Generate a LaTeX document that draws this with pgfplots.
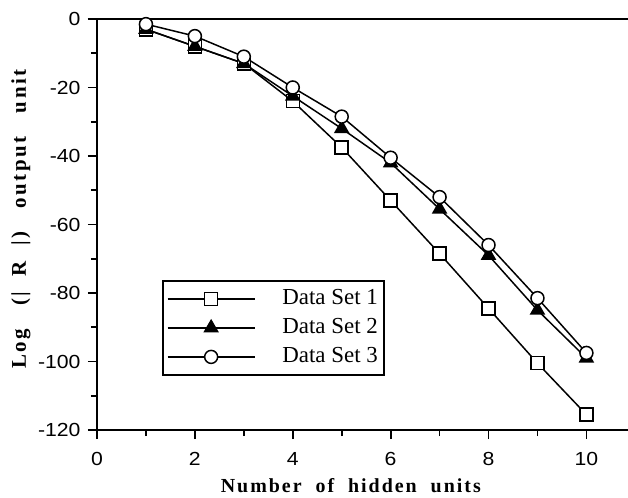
\documentclass[border=0pt]{standalone}
\usepackage{fontspec}
\setmainfont{Liberation Serif}
\setsansfont{Liberation Sans}
\newfontfamily\tickfont{Liberation Sans}[FakeStretch=1.12]
\usepackage{pgfplots}
\pgfplotsset{compat=1.18}
\begin{document}
\begin{tikzpicture}
\begin{axis}[
  at={(0,0)}, anchor=south west,
  scale only axis,
  width=531bp, height=411bp,
  xmin=0, xmax=10.85, ymin=-120, ymax=0,
  axis x line*=bottom, axis y line*=left,
  axis line style={line width=1.8bp},
  clip=false,
  xtick={0,2,4,6,8,10},
  xticklabels={0,2,4,6,8,10},
  ytick={-120,-100,-80,-60,-40,-20,0},
  yticklabels={-120,-100,-80,-60,-40,-20,0},
  minor xtick={1,3,5,7,9},
  minor ytick={-110,-90,-70,-50,-30,-10},
  tick align=outside,
  major tick length=9bp, minor tick length=6bp,
  every tick/.style={black, line width=1.8bp},
  ticklabel style={font=\tickfont\fontsize{19}{21}\selectfont},
  xticklabel style={yshift=-10bp},
  yticklabel style={xshift=-4bp},
  extra y ticks={0},
  extra y tick labels={},
  extra y tick style={grid=major, major grid style={black, line width=1.8bp}},
  xlabel={\addfontfeature{LetterSpace=10}\bfseries Number\ \ of\ \ hidden\ \ units},
  ylabel={\addfontfeature{LetterSpace=12}\bfseries Log\ \ \ (|\ \ R\ \ |)\ \ \ output\ \ \ unit},
  xlabel style={font=\fontsize{20}{22}\selectfont, at={(axis description cs:0.478,0)}, anchor=base, yshift=-62bp},
  ylabel style={font=\fontsize{21}{23}\selectfont, at={(axis description cs:0,0.513)}, anchor=center, rotate=0, yshift=76bp},
  legend style={at={(65bp,150bp)}, anchor=north west, draw=black, line width=1.8bp,
    font=\fontsize{23}{25}\selectfont, inner xsep=4bp, inner ysep=5bp,
    row sep=3bp, cells={anchor=west},
    nodes={text height=17bp, text depth=5bp, inner sep=2bp},
    /tikz/every odd column/.append style={column sep=25bp}},
  legend cell align=left,
  legend image code/.code={
    \draw[#1, mark repeat=2, mark phase=2] plot coordinates {(0bp,0bp) (43.5bp,0bp) (87bp,0bp)};
  },
]
\addplot[black, line width=1.5bp, mark=square*, mark options={fill=white, line width=1.5bp}, mark size=6.5bp]
  coordinates {(1,-3) (2,-8) (3,-13) (4,-24) (5,-37.5) (6,-53) (7,-68.5) (8,-84.5) (9,-100.5) (10,-115.5)};
\addlegendentry{Data Set 1\hspace{14bp}}
\addplot[black, line width=1.5bp, mark=triangle*, mark options={fill=black}, mark size=7.5bp]
  coordinates {(1,-3) (2,-8) (3,-13) (4,-22.5) (5,-32) (6,-42) (7,-55.5) (8,-69) (9,-85) (10,-99)};
\addlegendentry{Data Set 2}
\addplot[black, line width=1.5bp, mark=*, mark options={fill=white, line width=1.5bp}, mark size=6.5bp]
  coordinates {(1,-1.5) (2,-5) (3,-11) (4,-20) (5,-28.5) (6,-40.5) (7,-52) (8,-66) (9,-81.5) (10,-97.5)};
\addlegendentry{Data Set 3}
\end{axis}
\pgfresetboundingbox
\useasboundingbox (-97bp,-68bp) rectangle (531bp,430bp);
\end{tikzpicture}
\end{document}
